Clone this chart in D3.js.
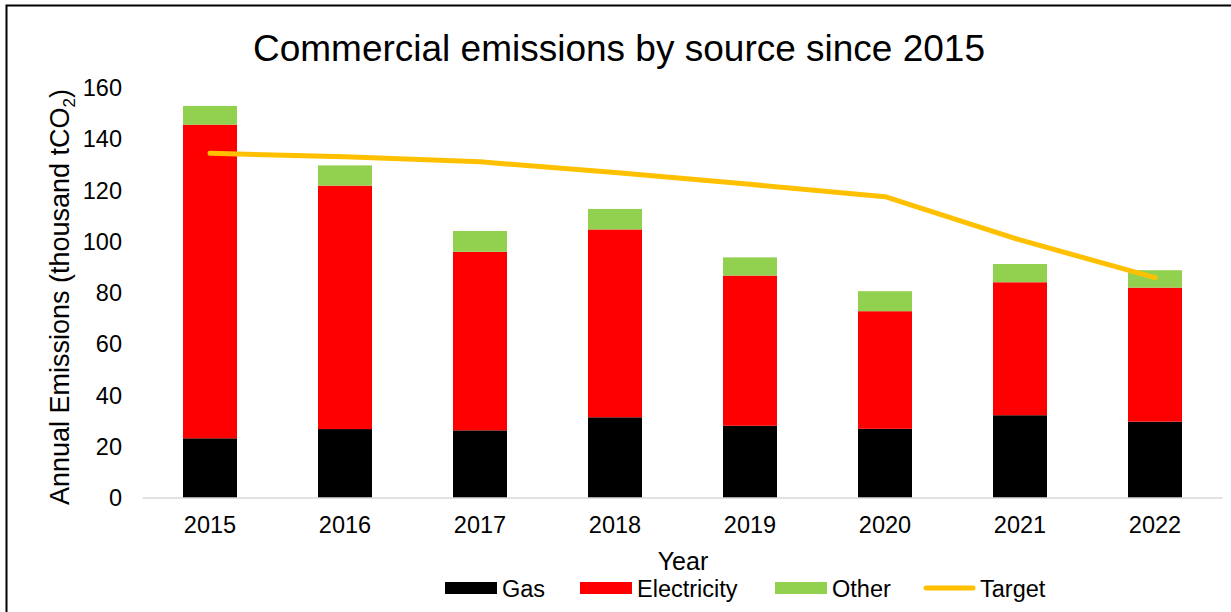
<!DOCTYPE html>
<html>
<head>
<meta charset="utf-8">
<script src="https://cdn.jsdelivr.net/npm/d3@7"></script>
<style>
  html, body { margin: 0; padding: 0; background: #fff; }
  svg { display: block; font-family: "Liberation Sans", Arial, sans-serif; }
</style>
</head>
<body>
<svg id="chart" width="1231" height="612"></svg>
<script>
// Commercial emissions (thousand tCO2) by source, 2015-2022
const years = ["2015", "2016", "2017", "2018", "2019", "2020", "2021", "2022"];
const gas = [23.3, 26.9, 26.4, 31.5, 28.2, 27.0, 32.3, 29.8];
const electricity = [122.4, 95.0, 69.7, 73.3, 58.6, 45.9, 51.9, 52.3];
const other = [7.3, 7.9, 8.1, 8.0, 7.1, 7.8, 7.1, 6.8];
const target = [134.5, 133.2, 131.2, 127.0, 122.4, 117.6, 100.7, 86.0];
const yTicks = [0, 20, 40, 60, 80, 100, 120, 140, 160];

const seriesNames = ["Gas", "Electricity", "Other"];
const seriesColors = { Gas: "#000000", Electricity: "#ff0000", Other: "#92d050" };
const targetColor = "#ffc000";

const svg = d3.select("#chart");

// outer frame
svg.append("rect")
  .attr("x", 6.5).attr("y", 5.5)
  .attr("width", 1400).attr("height", 800)
  .attr("fill", "none").attr("stroke", "#000").attr("stroke-width", 2);

const x = d3.scaleBand().domain(years).range([142.5, 1222.5])
  .paddingInner(0.6).paddingOuter(0.3);
const y = d3.scaleLinear().domain([0, 160]).range([498, 88]);

// stacked rows
const rows = years.map((yr, i) => ({ year: yr, Gas: gas[i], Electricity: electricity[i], Other: other[i] }));
const stacked = d3.stack().keys(seriesNames)(rows);

svg.append("g").selectAll("g").data(stacked).join("g")
  .attr("fill", d => seriesColors[d.key])
  .selectAll("rect").data(d => d).join("rect")
  .attr("x", d => x(d.data.year))
  .attr("width", x.bandwidth())
  .attr("y", d => y(d[1]))
  .attr("height", d => y(d[0]) - y(d[1]));

// baseline
svg.append("line")
  .attr("x1", 142.5).attr("x2", 1222.5)
  .attr("y1", y(0)).attr("y2", y(0))
  .attr("stroke", "#d9d9d9").attr("stroke-width", 1.5);

// target line
const line = d3.line()
  .x((d, i) => x(years[i]) + x.bandwidth() / 2)
  .y(d => y(d));
svg.append("path").datum(target)
  .attr("d", line)
  .attr("fill", "none")
  .attr("stroke", targetColor)
  .attr("stroke-width", 5)
  .attr("stroke-linecap", "round")
  .attr("stroke-linejoin", "round");

// y axis labels
const yAxis = d3.axisLeft(y).tickValues(yTicks).tickSize(0).tickPadding(0).tickFormat(d3.format("d"));
const gy = svg.append("g").attr("transform", "translate(122,0)").call(yAxis);
gy.select(".domain").remove();
gy.selectAll("text").attr("font-size", 23.5).attr("fill", "#000")
  .attr("font-family", "Liberation Sans, Arial, sans-serif");

// x axis labels
const xAxis = d3.axisBottom(x).tickSize(0).tickPadding(0);
const gx = svg.append("g").attr("transform", "translate(0,516)").call(xAxis);
gx.select(".domain").remove();
gx.selectAll("text").attr("font-size", 23.5).attr("fill", "#000")
  .attr("font-family", "Liberation Sans, Arial, sans-serif");

// title
svg.append("text")
  .attr("x", 619).attr("y", 61)
  .attr("text-anchor", "middle")
  .attr("font-size", 37)
  .text("Commercial emissions by source since 2015");

// y axis title
const yt = svg.append("text")
  .attr("transform", "translate(69,297) rotate(-90)")
  .attr("text-anchor", "middle")
  .attr("font-size", 27);
yt.append("tspan").text("Annual Emissions (thousand tCO");
yt.append("tspan").attr("font-size", 17).attr("dy", 6).text("2");
yt.append("tspan").attr("dy", -6).text(")");

// x axis title
svg.append("text")
  .attr("x", 683).attr("y", 570)
  .attr("text-anchor", "middle")
  .attr("font-size", 25)
  .text("Year");

// legend
const legendItems = [
  { name: "Gas", kind: "rect", x: 445 },
  { name: "Electricity", kind: "rect", x: 580 },
  { name: "Other", kind: "rect", x: 775 },
  { name: "Target", kind: "line", x: 923 }
];
const lg = svg.append("g").selectAll("g").data(legendItems).join("g")
  .attr("transform", d => `translate(${d.x},588)`);
lg.filter(d => d.kind === "rect").append("rect")
  .attr("x", 0).attr("y", -6).attr("width", 52).attr("height", 12)
  .attr("fill", d => seriesColors[d.name]);
lg.filter(d => d.kind === "line").append("line")
  .attr("x1", 3).attr("x2", 50).attr("y1", 0).attr("y2", 0)
  .attr("stroke", targetColor).attr("stroke-width", 5).attr("stroke-linecap", "round");
lg.append("text")
  .attr("x", 57).attr("y", 8.5)
  .attr("font-size", 23.5)
  .text(d => d.name);
</script>
</body>
</html>
